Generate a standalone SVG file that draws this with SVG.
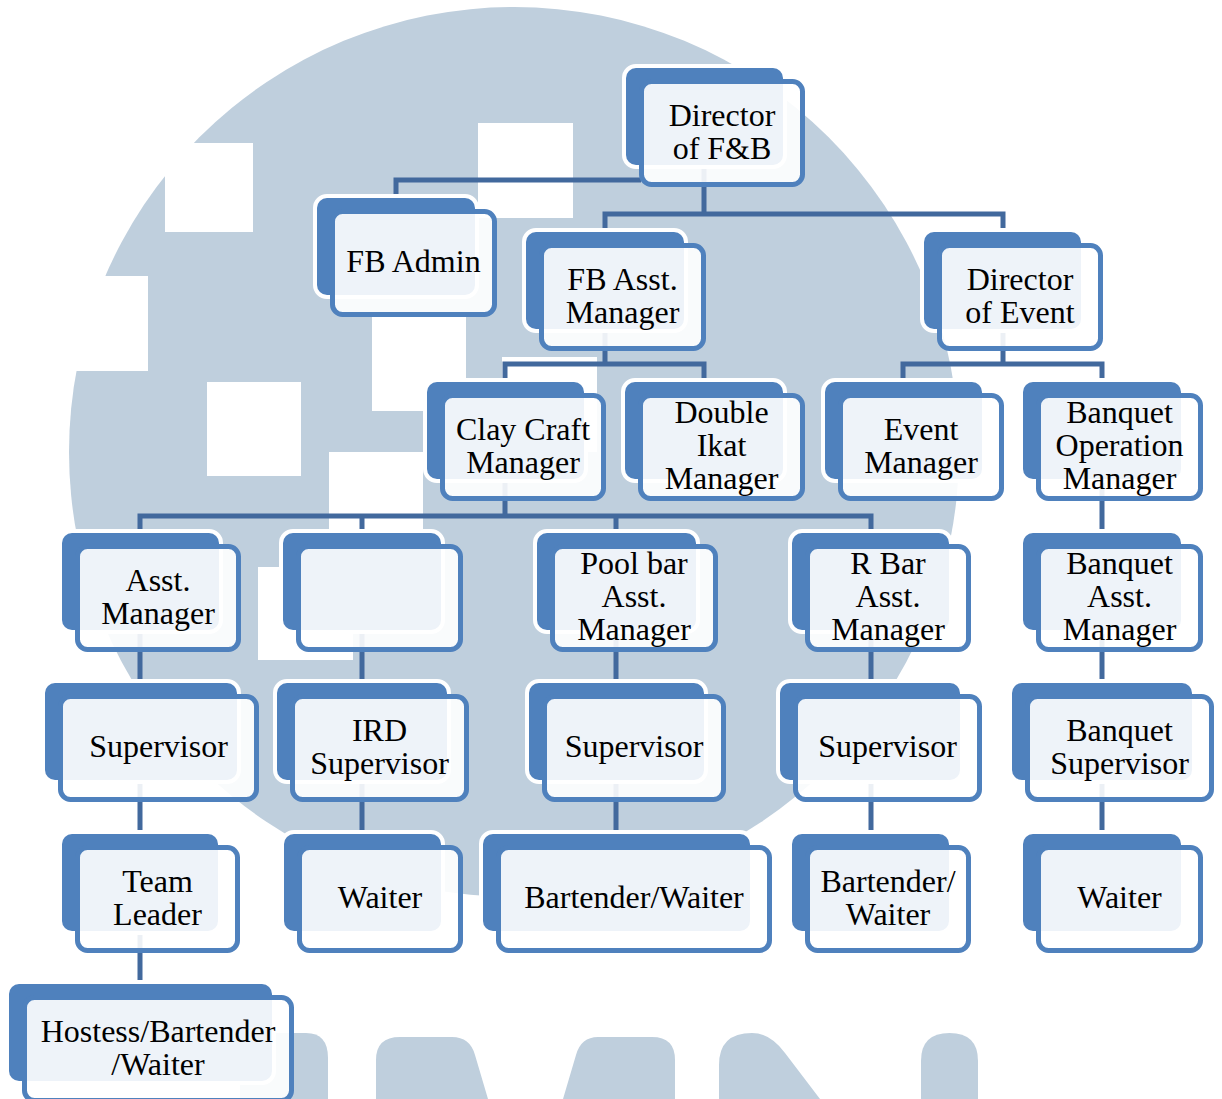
<svg xmlns="http://www.w3.org/2000/svg" width="1222" height="1099" viewBox="0 0 1222 1099">
<style>
.bg{fill:#bfcfdd}
.wh{fill:#ffffff}
.bk{fill:#4f81bd;stroke:#ffffff;stroke-width:8;paint-order:stroke}
.fr{fill:#ffffff;fill-opacity:0.9;stroke:#4f81bd;stroke-width:5}
.t{font-size:32px;fill:#000000;text-anchor:middle}
.cn{fill:none;stroke:#42699d;stroke-width:5}
</style>
<rect x="0" y="0" width="1222" height="1099" fill="#ffffff"/>
<g id="watermark">
<circle class="bg" cx="514" cy="452" r="445"/>
<rect class="wh" x="165" y="143" width="88" height="89"/>
<rect class="wh" x="40" y="276" width="108" height="95"/>
<rect class="wh" x="207" y="382" width="94" height="94"/>
<rect class="wh" x="478" y="123" width="95" height="95"/>
<rect class="wh" x="372" y="316" width="94" height="95"/>
<rect class="wh" x="502" y="357" width="95" height="95"/>
<rect class="wh" x="329" y="452" width="94" height="95"/>
<rect class="wh" x="258" y="567" width="95" height="93"/>
<path class="bg" d="M240 1099 L240 1053 Q240 1033 260 1033 L306 1033 Q328 1033 328 1058 L328 1099 Z"/>
<path class="bg" d="M376 1099 L376 1060 Q376 1037 400 1037 L452 1037 Q470 1037 475 1055 L488 1099 Z"/>
<path class="bg" d="M563 1099 L576 1055 Q581 1037 598 1037 L652 1037 Q675 1037 675 1060 L675 1099 Z"/>
<path class="bg" d="M719 1099 L719 1065 Q719 1033 752 1033 Q770 1033 785 1053 L820 1099 Z"/>
<path class="bg" d="M921 1099 L921 1061 Q921 1033 949.5 1033 Q978 1033 978 1061 L978 1099 Z"/>
</g>
<g id="connectors">
<path class="cn" d="M396 240 V180 H641"/>
<path class="cn" d="M704 120 V214 M605 280 V214 H1003 V280"/>
<path class="cn" d="M605 300 V364 M505 430 V364 H704 V430"/>
<path class="cn" d="M1003 300 V364 M903 430 V364 H1102 V430"/>
<path class="cn" d="M505 430 V516 M140 580 V516 H871 V580 M362 516 V580 M616 516 V580"/>
<path class="cn" d="M1102 430 V580"/>
<path class="cn" d="M140 580 V1030 M362 580 V880 M616 580 V880 M871 580 V880 M1102 580 V880"/>
</g>
<g id="nodes" font-family="Liberation Serif, Times New Roman, serif">
<g id="n-director-fb"><rect class="bk" x="626" y="68" width="157" height="97" rx="10"/><rect class="fr" x="641.5" y="81.5" width="161" height="103" rx="10"/><text class="t" x="722" y="125.5">Director</text><text class="t" x="722" y="158.5">of F&amp;B</text></g>
<g id="n-fb-admin"><rect class="bk" x="317" y="198" width="158" height="97" rx="10"/><rect class="fr" x="332.5" y="211.5" width="162" height="103" rx="10"/><text class="t" x="413.5" y="272">FB Admin</text></g>
<g id="n-fb-asst"><rect class="bk" x="526" y="232" width="158" height="97" rx="10"/><rect class="fr" x="541.5" y="245.5" width="162" height="103" rx="10"/><text class="t" x="622.5" y="289.5">FB Asst.</text><text class="t" x="622.5" y="322.5">Manager</text></g>
<g id="n-director-event"><rect class="bk" x="924" y="232" width="157" height="97" rx="10"/><rect class="fr" x="939.5" y="245.5" width="161" height="103" rx="10"/><text class="t" x="1020" y="289.5">Director</text><text class="t" x="1020" y="322.5">of Event</text></g>
<g id="n-clay"><rect class="bk" x="427" y="382" width="157" height="97" rx="10"/><rect class="fr" x="442.5" y="395.5" width="161" height="103" rx="10"/><text class="t" x="523" y="439.5">Clay Craft</text><text class="t" x="523" y="472.5">Manager</text></g>
<g id="n-ikat"><rect class="bk" x="625" y="382" width="158" height="97" rx="10"/><rect class="fr" x="640.5" y="395.5" width="162" height="103" rx="10"/><text class="t" x="721.5" y="423">Double</text><text class="t" x="721.5" y="456">Ikat</text><text class="t" x="721.5" y="489">Manager</text></g>
<g id="n-event"><rect class="bk" x="825" y="382" width="157" height="97" rx="10"/><rect class="fr" x="840.5" y="395.5" width="161" height="103" rx="10"/><text class="t" x="921" y="439.5">Event</text><text class="t" x="921" y="472.5">Manager</text></g>
<g id="n-banquet-op"><rect class="bk" x="1023" y="382" width="158" height="97" rx="10"/><rect class="fr" x="1038.5" y="395.5" width="162" height="103" rx="10"/><text class="t" x="1119.5" y="423">Banquet</text><text class="t" x="1119.5" y="456">Operation</text><text class="t" x="1119.5" y="489">Manager</text></g>
<g id="n-asst-mgr"><rect class="bk" x="62" y="533" width="157" height="97" rx="10"/><rect class="fr" x="77.5" y="546.5" width="161" height="103" rx="10"/><text class="t" x="158" y="590.5">Asst.</text><text class="t" x="158" y="623.5">Manager</text></g>
<g id="n-empty"><rect class="bk" x="283" y="533" width="158" height="97" rx="10"/><rect class="fr" x="298.5" y="546.5" width="162" height="103" rx="10"/></g>
<g id="n-poolbar"><rect class="bk" x="537" y="533" width="159" height="97" rx="10"/><rect class="fr" x="552.5" y="546.5" width="163" height="103" rx="10"/><text class="t" x="634" y="574">Pool bar</text><text class="t" x="634" y="607">Asst.</text><text class="t" x="634" y="640">Manager</text></g>
<g id="n-rbar"><rect class="bk" x="792" y="533" width="157" height="97" rx="10"/><rect class="fr" x="807.5" y="546.5" width="161" height="103" rx="10"/><text class="t" x="888" y="574">R Bar</text><text class="t" x="888" y="607">Asst.</text><text class="t" x="888" y="640">Manager</text></g>
<g id="n-banquet-asst"><rect class="bk" x="1023" y="533" width="158" height="97" rx="10"/><rect class="fr" x="1038.5" y="546.5" width="162" height="103" rx="10"/><text class="t" x="1119.5" y="574">Banquet</text><text class="t" x="1119.5" y="607">Asst.</text><text class="t" x="1119.5" y="640">Manager</text></g>
<g id="n-sup1"><rect class="bk" x="45" y="683" width="192" height="97" rx="10"/><rect class="fr" x="60.5" y="696.5" width="196" height="103" rx="10"/><text class="t" x="158.5" y="757">Supervisor</text></g>
<g id="n-ird"><rect class="bk" x="277" y="683" width="170" height="97" rx="10"/><rect class="fr" x="292.5" y="696.5" width="174" height="103" rx="10"/><text class="t" x="379.5" y="740.5">IRD</text><text class="t" x="379.5" y="773.5">Supervisor</text></g>
<g id="n-sup3"><rect class="bk" x="529" y="683" width="175" height="97" rx="10"/><rect class="fr" x="544.5" y="696.5" width="179" height="103" rx="10"/><text class="t" x="634" y="757">Supervisor</text></g>
<g id="n-sup4"><rect class="bk" x="780" y="683" width="180" height="97" rx="10"/><rect class="fr" x="795.5" y="696.5" width="184" height="103" rx="10"/><text class="t" x="887.5" y="757">Supervisor</text></g>
<g id="n-banquet-sup"><rect class="bk" x="1012" y="683" width="180" height="97" rx="10"/><rect class="fr" x="1027.5" y="696.5" width="184" height="103" rx="10"/><text class="t" x="1119.5" y="740.5">Banquet</text><text class="t" x="1119.5" y="773.5">Supervisor</text></g>
<g id="n-team"><rect class="bk" x="62" y="834" width="156" height="97" rx="10"/><rect class="fr" x="77.5" y="847.5" width="160" height="103" rx="10"/><text class="t" x="157.5" y="891.5">Team</text><text class="t" x="157.5" y="924.5">Leader</text></g>
<g id="n-waiter2"><rect class="bk" x="284" y="834" width="157" height="97" rx="10"/><rect class="fr" x="299.5" y="847.5" width="161" height="103" rx="10"/><text class="t" x="380" y="908">Waiter</text></g>
<g id="n-bw3"><rect class="bk" x="483" y="834" width="267" height="97" rx="10"/><rect class="fr" x="498.5" y="847.5" width="271" height="103" rx="10"/><text class="t" x="634" y="908">Bartender/Waiter</text></g>
<g id="n-bw4"><rect class="bk" x="792" y="834" width="157" height="97" rx="10"/><rect class="fr" x="807.5" y="847.5" width="161" height="103" rx="10"/><text class="t" x="888" y="891.5">Bartender/</text><text class="t" x="888" y="924.5">Waiter</text></g>
<g id="n-waiter5"><rect class="bk" x="1023" y="834" width="158" height="97" rx="10"/><rect class="fr" x="1038.5" y="847.5" width="162" height="103" rx="10"/><text class="t" x="1119.5" y="908">Waiter</text></g>
<g id="n-hostess"><rect class="bk" x="9" y="984" width="263" height="97" rx="10"/><rect class="fr" x="24.5" y="997.5" width="267" height="103" rx="10"/><text class="t" x="158" y="1041.5">Hostess/Bartender</text><text class="t" x="158" y="1074.5">/Waiter</text></g>
</g>
</svg>
